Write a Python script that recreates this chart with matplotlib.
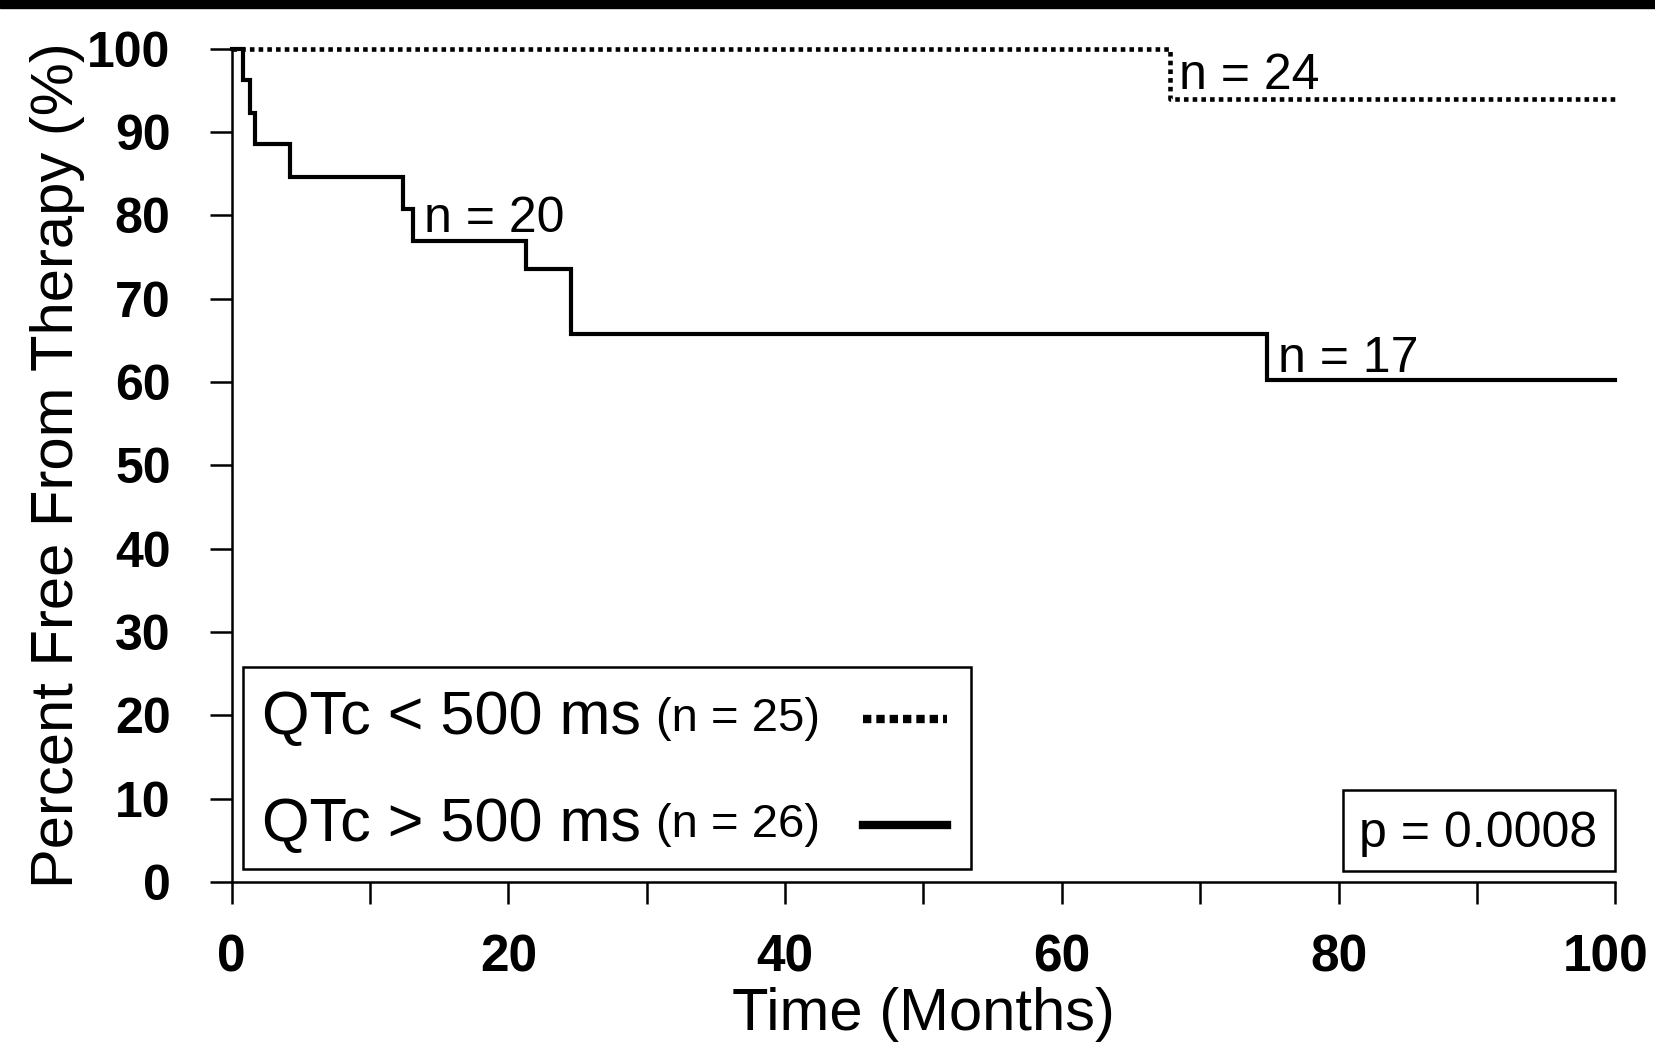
import matplotlib
matplotlib.use('Agg')
import matplotlib.pyplot as plt
import matplotlib.transforms as mtransforms
from matplotlib.patches import Rectangle
from matplotlib.lines import Line2D

plt.rcParams['font.family'] = ['Liberation Sans', 'DejaVu Sans']

# Kaplan-Meier style step data
low_time = [0, 67.8, 100]
low_surv = [100, 93.9, 93.9]

high_time = [0, 0.8, 1.3, 1.7, 4.2, 12.4, 13.1, 21.3, 24.5, 74.8, 100]
high_surv = [100, 96.2, 92.3, 88.5, 84.6, 80.8, 76.9, 73.5, 65.8, 60.2, 60.2]

# at-risk annotations: (x, y, text)
risk_x = [13.9, 68.5, 75.6]
risk_y = [78.0, 95.2, 61.2]
risk_txt = ['n = 20', 'n = 24', 'n = 17']

legend_main = ['QTc < 500 ms', 'QTc > 500 ms']
legend_sub = ['(n = 25)', '(n = 26)']
p_text = 'p = 0.0008'

fig = plt.figure(figsize=(16.55, 10.48), dpi=100)
ax = fig.add_axes([0.140, 0.1584, 0.836, 0.7953])

ax.step(high_time, high_surv, where='post', color='black', lw=3,
        clip_on=False, solid_joinstyle='miter')
ax.step(low_time, low_surv, where='post', color='black', lw=3.3,
        linestyle=(0, (1, 0.9)), clip_on=False)

for x, y, t in zip(risk_x, risk_y, risk_txt):
    ax.text(x, y, t, fontsize=36, ha='left', va='baseline')

ax.set_xlim(0, 100)
ax.set_ylim(0, 100)
ax.set_xticks(range(0, 101, 10))
ax.set_xticklabels([str(v) if v % 20 == 0 else '' for v in range(0, 101, 10)])
ax.set_yticks(range(0, 101, 10))
for s in ['top', 'right']:
    ax.spines[s].set_visible(False)
for s in ['left', 'bottom']:
    ax.spines[s].set_linewidth(1.8)
ax.tick_params(axis='both', direction='out', length=16, width=1.8)
ax.tick_params(axis='y', pad=28, labelsize=36)
ax.tick_params(axis='x', pad=21, labelsize=37)
for lab in ax.get_xticklabels() + ax.get_yticklabels():
    lab.set_fontweight('bold')

# pull the last x label ("100") in a little so it stays inside the figure
last = ax.get_xticklabels()[-1]
last.set_transform(last.get_transform() +
                   mtransforms.ScaledTranslation(-10 / 100, 0, fig.dpi_scale_trans))

ax.set_xlabel('Time (Months)', fontsize=43, labelpad=3)
ax.set_ylabel('Percent Free From Therapy (%)', fontsize=43, labelpad=2)

# legend box drawn by hand (text first, line sample on the right)
ax.add_patch(Rectangle((0.008, 0.0156), 0.526, 0.2424, transform=ax.transAxes,
                       fill=False, lw=1.8, ec='black', clip_on=False))
row_y = [0.196, 0.068]
styles = [dict(linestyle=(0, (1, 0.6)), lw=6), dict(linestyle='-', lw=6)]
for yy, main, sub, st in zip(row_y, legend_main, legend_sub, styles):
    ax.text(0.0217, yy, main, transform=ax.transAxes, fontsize=44,
            ha='left', va='center')
    ax.text(0.307, yy, sub, transform=ax.transAxes, fontsize=34,
            ha='left', va='center')
    ax.add_line(Line2D([0.456, 0.517], [yy, yy], transform=ax.transAxes,
                       color='black', clip_on=False, **st))

# p-value box
ax.add_patch(Rectangle((0.803, 0.0132), 0.197, 0.0968, transform=ax.transAxes,
                       fill=False, lw=1.8, ec='black', clip_on=False))
ax.text(0.901, 0.0576, p_text, transform=ax.transAxes, fontsize=36,
        ha='center', va='center')

# black band at the top of the original image
fig.patches.append(Rectangle((0, 0.992), 1, 0.008, transform=fig.transFigure,
                             color='black', zorder=10))

fig.savefig('out.png', dpi=100)
